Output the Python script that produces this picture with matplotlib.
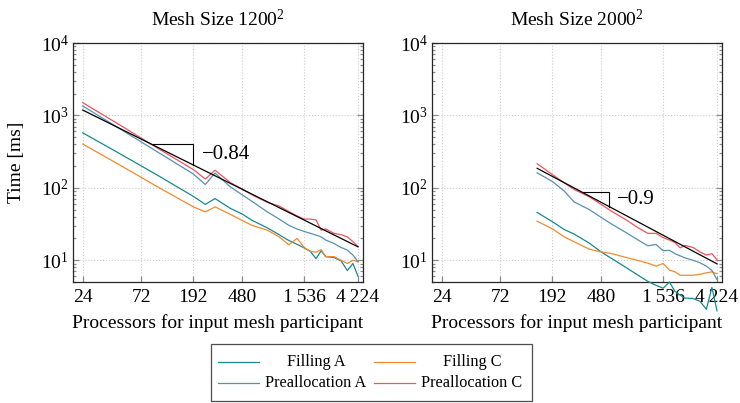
import matplotlib
matplotlib.use('Agg')
import matplotlib.pyplot as plt
import numpy as np
from matplotlib.lines import Line2D
from matplotlib.patches import Rectangle
from matplotlib.ticker import FixedLocator, FixedFormatter, NullLocator, LogLocator

plt.rcParams['font.family'] = ['Liberation Serif', 'DejaVu Serif']
plt.rcParams['mathtext.fontset'] = 'custom'
plt.rcParams['mathtext.rm'] = 'Liberation Serif'
plt.rcParams['mathtext.it'] = 'Liberation Serif:italic'

# x ticks shared by both panels
tick_values = [24, 72, 192, 480, 1536, 4224]
tick_labels = ['24', '72', '192', '480', '1\u2009536', '4\u2009224']

# Mesh size 1200^2
x_1200 = [24, 48, 96, 192, 240, 288, 384, 480, 576, 768, 960, 1152, 1344, 1536,
          1728, 1920, 2112, 2304, 2688, 3072, 3456, 3840, 4224]
fill_a_1200 = [575, 297, 152, 76, 59, 71, 52, 43.4, 35.6, 28, 22.5, 18.7, 16.6, 14.8,
               13.2, 10.5, 13.5, 11.2, 10.9, 9.8, 7.2, 9, 6]
fill_c_1200 = [402, 207, 105, 54.5, 46.5, 54.5, 43, 35.4, 30.3, 26, 21, 16.3, 20, 15,
               13.3, 12.9, 14, 11.2, 11.2, 10, 9, 10, 9.5]
pre_a_1200 = [1350, 656, 319, 155, 111, 160, 103, 80, 65, 46.6, 37, 30.3, 27, 25,
              23.5, 22.2, 21, 19, 17, 15, 13.8, 11.8, 9.5]
pre_c_1200 = [1500, 740, 360, 178, 132, 175, 118, 96, 80, 63, 56, 47, 41, 37,
              37, 36, 26, 27, 23.5, 22.5, 21, 18, 15.5]
fit_x_1200 = [24, 4224]
fit_y_1200 = [1186, 15.3]
slope_1200 = '\u22120.84'
tri_x_1200 = [88, 192]

# Mesh size 2000^2
x_2000 = [144, 192, 240, 288, 384, 480, 576, 768, 960, 1152, 1344, 1536, 1728,
          1920, 2112, 2304, 2688, 3072, 3456, 3840, 4224]
fill_a_2000 = [45.7, 34, 26.5, 23, 17.2, 13, 10.7, 7.9, 6.2, 5.1, 4.5, 4.1, 5.0,
               3.7, 3.3, 3.0, 2.96, 2.7, 2.1, 4.2, 2.0]
fill_c_2000 = [34.6, 27, 21, 18, 14.2, 13, 12.4, 10.9, 9.9, 9.1, 8.3, 9.0, 7.3,
               6.9, 6.2, 6.2, 6.2, 6.4, 6.7, 6.9, 6.5]
pre_a_2000 = [161, 122, 90, 64, 50, 39, 32, 24, 19, 15.8, 16.5, 13.5, 13.7,
              12.3, 11.5, 10.8, 10, 9.2, 8.3, 7.2, 5.4]
pre_c_2000 = [215, 152, 117, 95, 75, 59, 48, 36, 28, 23.5, 23.5, 20.5, 19,
              17.5, 14.8, 16, 15, 13, 11.8, 12.3, 10.1]
fit_x_2000 = [144, 4224]
fit_y_2000 = [186, 8.9]
slope_2000 = '\u22120.9'
tri_x_2000 = [332, 557]

names = ['Filling A', 'Filling C', 'Preallocation A', 'Preallocation C']
colors = ['#17898d', '#f28a30', '#5591b5', '#ee5560']


def fit_at(x, fx, fy):
    # position on the fitted line (straight in log-log)
    return 10 ** np.interp(np.log10(x), np.log10(fx), np.log10(fy))


def draw_panel(ax, title, xs, series, fx, fy, tri_x, slope_text):
    for ys, c in zip(series, colors):
        ax.plot(xs, ys, color=c, lw=0.9, clip_on=False, zorder=3)
    ax.plot(fx, fy, color='black', lw=0.9, zorder=4)
    # slope triangle
    y0 = fit_at(tri_x[0], fx, fy)
    y1 = fit_at(tri_x[1], fx, fy)
    ax.plot([tri_x[0], tri_x[1], tri_x[1]], [y0, y0, y1], color='black', lw=0.8, zorder=4)
    ax.annotate(slope_text, xy=(tri_x[1], np.sqrt(y0 * y1)), xytext=(6, 0),
                textcoords='offset points', va='center', ha='left', fontsize=15)

    ax.set_xscale('log')
    ax.set_yscale('log')
    ax.set_xlim(20, 4640)
    ax.set_ylim(5, 1e4)
    ax.xaxis.set_major_locator(FixedLocator(tick_values))
    ax.xaxis.set_major_formatter(FixedFormatter(tick_labels))
    ax.xaxis.set_minor_locator(NullLocator())
    ax.yaxis.set_major_locator(LogLocator(base=10, numticks=10))
    ax.yaxis.set_minor_locator(LogLocator(base=10, subs=np.arange(2, 10), numticks=20))
    ax.tick_params(which='both', direction='in', left=True, right=True, top=False,
                   bottom=True, color='0.55', width=0.9, labelsize=14)
    ax.tick_params(which='major', length=4.5)
    ax.tick_params(which='minor', length=2.5)
    ax.tick_params(axis='x', pad=5)
    ax.tick_params(axis='y', pad=3)
    ax.grid(True, which='major', ls=':', color='0.8', lw=0.8)
    for sp in ax.spines.values():
        sp.set_color('0.15')
        sp.set_linewidth(0.9)
    ax.set_title(title, fontsize=14, pad=12)
    ax.set_xlabel('Processors for input mesh participant', fontsize=14, labelpad=6)


fig = plt.figure(figsize=(7.4, 4.03), dpi=100)
W, H = 740.0, 403.0
ax1 = fig.add_axes([73 / W, 1 - 282 / H, 290 / W, 239 / H])
ax2 = fig.add_axes([432 / W, 1 - 282 / H, 290 / W, 239 / H])

draw_panel(ax1, 'Mesh Size 1200$^2$', x_1200,
           [fill_a_1200, fill_c_1200, pre_a_1200, pre_c_1200],
           fit_x_1200, fit_y_1200, tri_x_1200, slope_1200)
draw_panel(ax2, 'Mesh Size 2000$^2$', x_2000,
           [fill_a_2000, fill_c_2000, pre_a_2000, pre_c_2000],
           fit_x_2000, fit_y_2000, tri_x_2000, slope_2000)

fig.text(16 / W, 1 - 162.5 / H, 'Time [ms]', rotation=90, ha='center', va='center', fontsize=14)

# legend box drawn by hand so entries can be centred like pgfplots
fig.add_artist(Rectangle((211 / W, 1 - 401 / H), 321 / W, 57 / H, transform=fig.transFigure,
                         fill=False, ec='0.3', lw=0.9))
rows = [361.7, 383.3]
cols = [(218, 259, 316), (374, 415, 472)]
for i, (name, c) in enumerate(zip(names, colors)):
    r = rows[i // 2]
    x0, x1, xt = cols[i % 2]
    fig.add_artist(Line2D([x0 / W, x1 / W], [1 - r / H, 1 - r / H], color=c, lw=0.9,
                          transform=fig.transFigure))
    fig.text(xt / W, 1 - r / H, name, ha='center', va='center', fontsize=11.7)

fig.savefig('out.png', dpi=100)
